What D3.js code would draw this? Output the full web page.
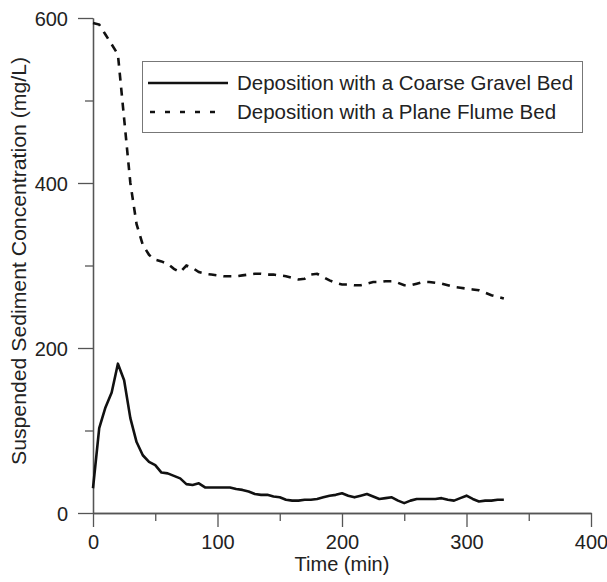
<!DOCTYPE html>
<html>
<head>
<meta charset="utf-8">
<script src="https://d3js.org/d3.v7.min.js"></script>
<style>
  body { margin: 0; background: #ffffff; }
  text { font-family: "Liberation Sans", Arial, sans-serif; fill: #222; }
  .axis path, .axis line { stroke: #555; stroke-width: 1.3; }
  .axis text { font-size: 20px; fill: #222; }
</style>
</head>
<body>
<div id="chart"></div>
<script>

// time values (min), sampled every 5 minutes
var times = [0, 5, 10, 15, 20, 25, 30, 35, 40, 45, 50, 55, 60, 65, 70, 75, 80, 85, 90, 95,
  100, 105, 110, 115, 120, 125, 130, 135, 140, 145, 150, 155, 160, 165, 170, 175, 180, 185, 190, 195,
  200, 205, 210, 215, 220, 225, 230, 235, 240, 245, 250, 255, 260, 265, 270, 275, 280, 285, 290, 295,
  300, 305, 310, 315, 320, 325, 330];

// deposition with a coarse gravel bed (mg/L)
var gravelBed = [30, 103, 128, 146, 181, 161, 115, 86, 70, 62, 58, 49, 48, 45, 42, 35, 34, 36, 31, 31,
  31, 31, 31, 29, 28, 26, 23, 22, 22, 20, 19, 16, 15, 15, 16, 16, 17, 19, 21, 22,
  24, 21, 19, 21, 23, 20, 17, 18, 19, 15, 12, 15, 17, 17, 17, 17, 18, 16, 15, 18,
  21, 17, 14, 15, 15, 16, 16];

// deposition with a plane flume bed (mg/L)
var planeBed = [594, 592, 580, 568, 556, 478, 400, 350, 325, 313, 307, 305, 302, 296, 292, 300, 297, 292, 290, 289,
  288, 287, 287, 287, 288, 289, 290, 290, 289, 289, 288, 287, 285, 283, 284, 289, 290, 286, 282, 279,
  277, 277, 276, 276, 278, 280, 280, 281, 281, 279, 276, 276, 278, 280, 280, 279, 278, 276, 274, 273,
  272, 271, 270, 267, 264, 262, 260];

// tick values
var xMajorTicks = [0, 100, 200, 300, 400];
var xMinorTicks = [50, 150, 250, 350];
var yMajorTicks = [0, 200, 400, 600];
var yMinorTicks = [100, 300, 500];

// legend labels
var legendLabels = ["Deposition with a Coarse Gravel Bed", "Deposition with a Plane Flume Bed"];

var svgWidth = 607, svgHeight = 582;

var svg = d3.select("#chart")
  .append("svg")
  .attr("width", svgWidth)
  .attr("height", svgHeight);

// scales
var x = d3.scaleLinear().domain([0, 400]).range([93, 591]);
var y = d3.scaleLinear().domain([0, 600]).range([513, 18]);

// minor ticks first, no labels
svg.append("g")
  .attr("class", "axis")
  .attr("transform", "translate(0," + y(0) + ")")
  .call(d3.axisBottom(x).tickValues(xMinorTicks).tickSize(8).tickSizeOuter(0).tickFormat(""));

svg.append("g")
  .attr("class", "axis")
  .attr("transform", "translate(" + x(0) + ",0)")
  .call(d3.axisLeft(y).tickValues(yMinorTicks).tickSize(8).tickSizeOuter(0).tickFormat(""));

// major x axis
svg.append("g")
  .attr("class", "axis")
  .attr("transform", "translate(0," + y(0) + ")")
  .call(d3.axisBottom(x).tickValues(xMajorTicks).tickSize(14).tickSizeOuter(0).tickPadding(8));

// major y axis
svg.append("g")
  .attr("class", "axis")
  .attr("transform", "translate(" + x(0) + ",0)")
  .call(d3.axisLeft(y).tickValues(yMajorTicks).tickSize(15).tickSizeOuter(0).tickPadding(10))
  .selectAll("text")
    .attr("dy", "0.36em");

// axis titles
svg.append("text")
  .attr("x", 342)
  .attr("y", 571)
  .attr("text-anchor", "middle")
  .style("font-size", "20px")
  .text("Time (min)");

svg.append("text")
  .attr("transform", "translate(26,261) rotate(-90)")
  .attr("text-anchor", "middle")
  .style("font-size", "20px")
  .attr("textLength", 408)
  .attr("lengthAdjust", "spacingAndGlyphs")
  .text("Suspended Sediment Concentration (mg/L)");

// line generator shared by both series
var seriesLine = d3.line()
  .x(function(d, i) { return x(times[i]); })
  .y(function(d) { return y(d); });

svg.append("path")
  .datum(gravelBed)
  .attr("d", seriesLine)
  .attr("fill", "none")
  .attr("stroke", "#111")
  .attr("stroke-width", 2.6)
  .attr("stroke-linejoin", "round");

svg.append("path")
  .datum(planeBed)
  .attr("d", seriesLine)
  .attr("fill", "none")
  .attr("stroke", "#111")
  .attr("stroke-width", 2.6)
  .attr("stroke-dasharray", "8,7");

// legend
var legend = svg.append("g");

legend.append("rect")
  .attr("x", 142.5)
  .attr("y", 61.5)
  .attr("width", 440)
  .attr("height", 71)
  .attr("fill", "none")
  .attr("stroke", "#777")
  .attr("stroke-width", 1);

var rowY = [83, 112];
var rowX1 = [148, 150];
var rowX2 = [228, 218];
var rowDash = [null, "5,10"];

legendLabels.forEach(function(label, i) {
  legend.append("line")
    .attr("x1", rowX1[i])
    .attr("x2", rowX2[i])
    .attr("y1", rowY[i])
    .attr("y2", rowY[i])
    .attr("stroke", "#111")
    .attr("stroke-width", 2.4)
    .attr("stroke-dasharray", rowDash[i]);

  legend.append("text")
    .attr("x", 237)
    .attr("y", rowY[i] + 7)
    .style("font-size", "20.5px")
    .text(label);
});

</script>
</body>
</html>
